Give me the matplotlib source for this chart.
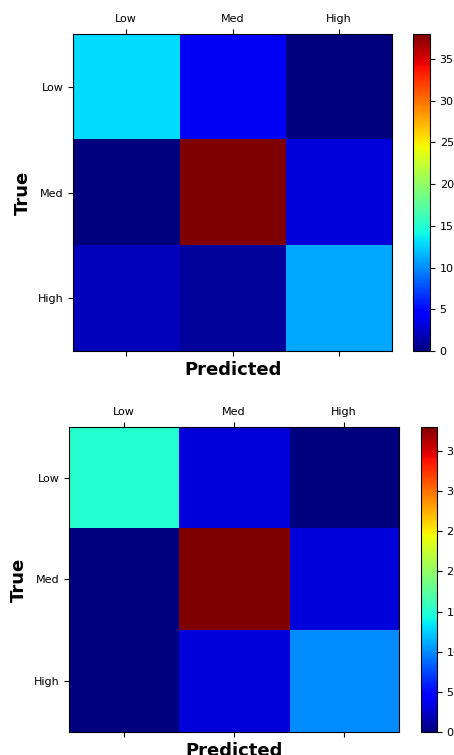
import numpy as np
import matplotlib
matplotlib.use("Agg")
import matplotlib.pyplot as plt

labels = ["Low", "Med", "High"]
cm_top = [[13, 4, 0],
          [0, 38, 3],
          [2, 1, 11]]
cm_bottom = [[15, 3, 0],
             [0, 38, 3],
             [0, 3, 10]]

plt.rcParams.update({"font.size": 8})

fig = plt.figure(figsize=(4.54, 7.55), dpi=100)


def draw_cm(ax_rect, cax_rect, cm):
    ax = fig.add_axes(ax_rect)
    cax = fig.add_axes(cax_rect)
    cm = np.array(cm)
    im = ax.imshow(cm, cmap="jet", aspect="auto", interpolation="nearest",
                   vmin=0, vmax=cm.max())
    ax.set_xticks(range(3))
    ax.set_yticks(range(3))
    ax.set_xticklabels(labels)
    ax.set_yticklabels(labels)
    ax.tick_params(top=True, labeltop=True, bottom=True, labelbottom=False)
    ax.set_xlabel("Predicted", fontsize=13, fontweight="bold")
    ax.set_ylabel("True", fontsize=13, fontweight="bold")
    fig.colorbar(im, cax=cax)
    return ax


draw_cm([0.161, 0.535, 0.703, 0.42], [0.910, 0.535, 0.037, 0.42], cm_top)
draw_cm([0.152, 0.0305, 0.727, 0.404], [0.927, 0.0305, 0.035, 0.404], cm_bottom)

fig.savefig("out.png", dpi=100)
